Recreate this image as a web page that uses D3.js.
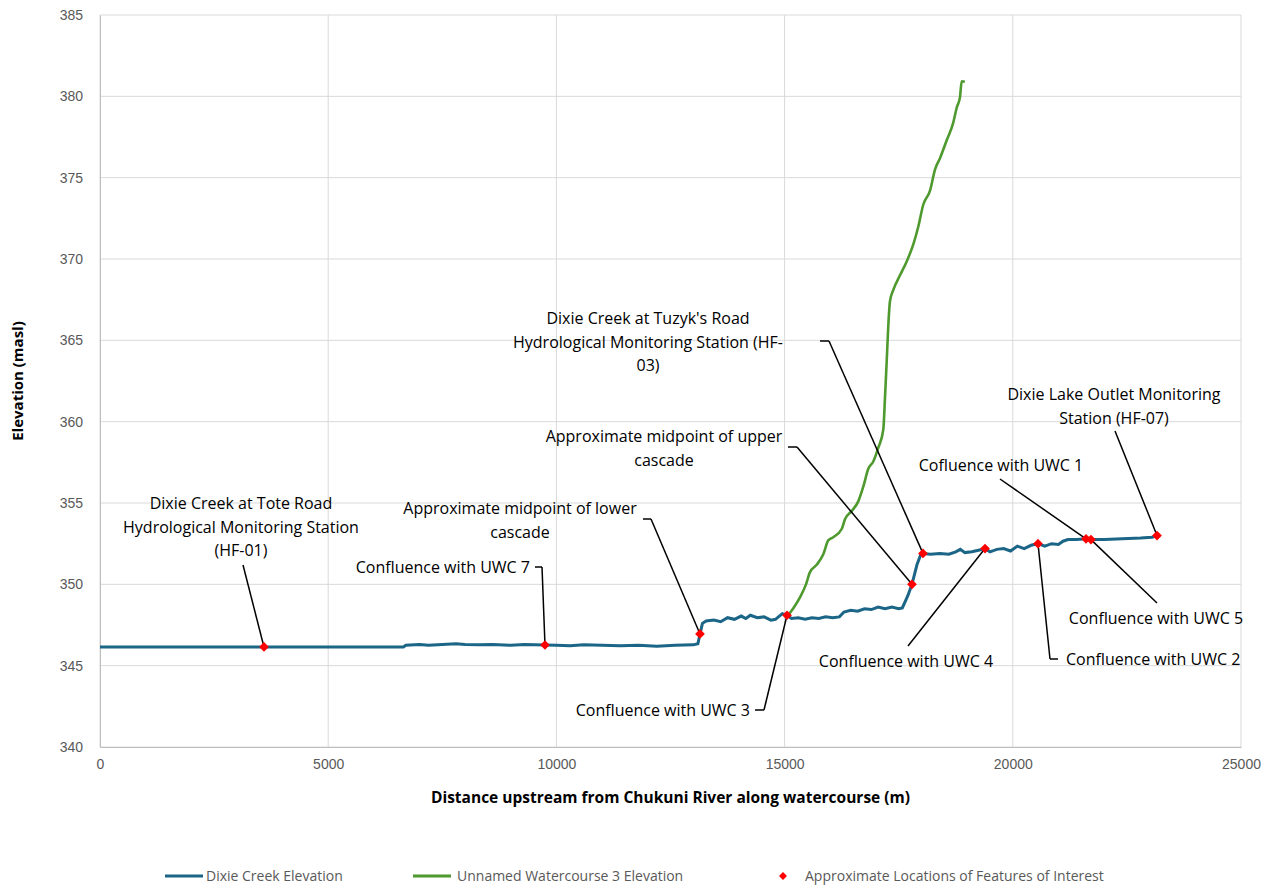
<!DOCTYPE html>
<html lang="en">
<head>
  <meta charset="UTF-8">
  <title>Dixie Creek profile</title>
  <script src="https://cdn.jsdelivr.net/npm/d3@7"></script>
  <style>
    body { margin: 0; background: #fff; }
    svg { display: block; font-family: "Open Sans", "Noto Sans", sans-serif; }
    .tick text { fill: #595959; font-size: 14px; }
    .note { font-size: 16px; fill: #000; }
  </style>
</head>
<body>
  <div id="chart"></div>
  <script>
    // Dixie Creek profile (distance m, elevation masl)
    const dixieX = [0, 6650, 6700, 7000, 7200, 7500, 7800, 8000, 8300, 8600, 9000, 9300, 9750, 10000, 10300, 10600, 11000, 11400, 11800, 12200, 12600, 13000, 13100, 13146, 13200, 13280, 13450, 13600, 13750, 13900, 14050, 14150, 14250, 14400, 14550, 14700, 14800, 14950, 15053, 15150, 15300, 15450, 15600, 15750, 15900, 16050, 16200, 16300, 16450, 16600, 16750, 16900, 17050, 17200, 17350, 17500, 17580, 17700, 17791, 17900, 17980, 18032, 18200, 18400, 18600, 18750, 18850, 18950, 19100, 19250, 19391, 19500, 19650, 19800, 19950, 20100, 20250, 20400, 20552, 20700, 20850, 21000, 21100, 21209, 21400, 21604, 21713, 22000, 22400, 22800, 23050, 23160]
    const dixieY = [346.15, 346.15, 346.25, 346.3, 346.25, 346.3, 346.35, 346.3, 346.28, 346.3, 346.25, 346.3, 346.27, 346.25, 346.22, 346.28, 346.25, 346.22, 346.25, 346.2, 346.25, 346.28, 346.35, 346.95, 347.6, 347.75, 347.8, 347.7, 347.95, 347.85, 348.05, 347.9, 348.1, 347.95, 348.0, 347.8, 347.85, 348.2, 348.1, 347.9, 347.95, 347.85, 347.95, 347.9, 348.0, 347.95, 348.0, 348.3, 348.4, 348.35, 348.5, 348.45, 348.6, 348.5, 348.6, 348.5, 348.55, 349.3, 350.0, 351.2, 351.8, 351.9, 351.85, 351.9, 351.85, 352.0, 352.15, 351.95, 352.0, 352.1, 352.2, 352.0, 352.15, 352.2, 352.05, 352.35, 352.2, 352.4, 352.5, 352.35, 352.5, 352.45, 352.65, 352.75, 352.75, 352.8, 352.75, 352.75, 352.8, 352.85, 352.9, 353.0]

    // Unnamed Watercourse 3 profile
    const uwcX = [15046, 15184, 15337, 15469, 15556, 15703, 15848, 15957, 16067, 16251, 16323, 16470, 16614, 16724, 16834, 16943, 17053, 17162, 17200, 17237, 17272, 17309, 17382, 17528, 17675, 17820, 17930, 18039, 18186, 18295, 18405, 18552, 18697, 18771, 18843, 18880, 18950]
    const uwcY = [348.0, 348.5, 349.2, 350.0, 350.75, 351.2, 351.85, 352.7, 352.9, 353.4, 354.0, 354.5, 355.1, 356.0, 357.1, 357.55, 358.4, 359.5, 361.5, 363.7, 365.9, 367.4, 368.1, 369.0, 369.85, 370.9, 372.0, 373.35, 374.2, 375.5, 376.2, 377.3, 378.4, 379.3, 379.95, 380.93, 380.9]

    // features of interest
    const featX = [3593, 9750, 13146, 15053, 17791, 18032, 19391, 20552, 21604, 21713, 23160]
    const featY = [346.15, 346.27, 346.95, 348.1, 350.0, 351.9, 352.2, 352.5, 352.8, 352.75, 353.0]
    const featLabels = [
      ['Dixie Creek at Tote Road', 'Hydrological Monitoring Station', '(HF-01)'],
      ['Confluence with UWC 7'],
      ['Approximate midpoint of lower', 'cascade'],
      ['Confluence with UWC 3'],
      ['Approximate midpoint of upper', 'cascade'],
      ["Dixie Creek at Tuzyk's Road", 'Hydrological Monitoring Station (HF-', '03)'],
      ['Confluence with UWC 4'],
      ['Confluence with UWC 2'],
      ['Cofluence with UWC 1'],
      ['Confluence with UWC 5'],
      ['Dixie Lake Outlet Monitoring', 'Station (HF-07)']
    ]

    const xTicks = [0, 5000, 10000, 15000, 20000, 25000]
    const yTicks = [340, 345, 350, 355, 360, 365, 370, 375, 380, 385]

    // label layout (pixels): text anchor x, first baseline y, anchor, leader start
    const labelLayout = [
      { tx: 241, ty: 509, anchor: 'middle', lx: 243, ly: 565, stub: 0 },
      { tx: 530, ty: 573, anchor: 'end', lx: 542, ly: 567, stub: -7 },
      { tx: 520, ty: 514, anchor: 'middle', lx: 651, ly: 519, stub: -8 },
      { tx: 750, ty: 716, anchor: 'end', lx: 764, ly: 710, stub: -9 },
      { tx: 664, ty: 442, anchor: 'middle', lx: 797, ly: 447, stub: -9 },
      { tx: 648, ty: 324, anchor: 'middle', lx: 829, ly: 341, stub: -9 },
      { tx: 906, ty: 667, anchor: 'middle', lx: 908, ly: 646, stub: 0 },
      { tx: 1066, ty: 665, anchor: 'start', lx: 1050, ly: 659, stub: 8 },
      { tx: 1001, ty: 471, anchor: 'middle', lx: 1000, ly: 479, stub: 0 },
      { tx: 1156, ty: 624, anchor: 'middle', lx: 1157, ly: 603, stub: 0 },
      { tx: 1114, ty: 400, anchor: 'middle', lx: 1115, ly: 431, stub: 0 }
    ]

    const width = 1266
    const height = 887
    const margin = { left: 100, right: 25, top: 15, bottom: 140 }

    const svg = d3.select('#chart').append('svg')
      .attr('width', width)
      .attr('height', height)

    const x = d3.scaleLinear().domain([0, 25000]).range([margin.left, width - margin.right])
    const y = d3.scaleLinear().domain([340, 385]).range([height - margin.bottom, margin.top])

    // grid
    svg.append('g')
      .selectAll('line.h')
      .data(yTicks)
      .join('line')
      .attr('x1', x(0)).attr('x2', x(25000))
      .attr('y1', d => y(d)).attr('y2', d => y(d))
      .attr('stroke', '#d9d9d9')
    svg.append('g')
      .selectAll('line.v')
      .data(xTicks)
      .join('line')
      .attr('x1', d => x(d)).attr('x2', d => x(d))
      .attr('y1', y(340)).attr('y2', y(385))
      .attr('stroke', '#d9d9d9')

    const xAxis = svg.append('g')
      .attr('transform', `translate(0, ${y(340)})`)
      .call(d3.axisBottom(x).tickValues(xTicks).tickFormat(d3.format('d')).tickSize(0).tickPadding(12))
    xAxis.select('.domain').attr('stroke', '#bfbfbf')

    const yAxis = svg.append('g')
      .attr('transform', `translate(${x(0)}, 0)`)
      .call(d3.axisLeft(y).tickValues(yTicks).tickSize(0).tickPadding(17))
    yAxis.select('.domain').attr('stroke', '#bfbfbf')

    svg.append('text')
      .attr('x', (x(0) + x(25000)) / 2)
      .attr('y', 803)
      .attr('text-anchor', 'middle')
      .style('font-size', '15.5px')
      .style('font-weight', 'bold')
      .text('Distance upstream from Chukuni River along watercourse (m)')

    svg.append('text')
      .attr('transform', `translate(23, ${(y(340) + y(385)) / 2}) rotate(-90)`)
      .attr('text-anchor', 'middle')
      .style('font-size', '15px')
      .style('font-weight', 'bold')
      .text('Elevation (masl)')

    const line = d3.line().x(d => x(d[0])).y(d => y(d[1]))

    svg.append('path')
      .datum(d3.zip(uwcX, uwcY))
      .attr('d', line.curve(d3.curveMonotoneX))
      .attr('fill', 'none')
      .attr('stroke', '#4e9a2e')
      .attr('stroke-width', 2.6)

    svg.append('path')
      .datum(d3.zip(dixieX, dixieY))
      .attr('d', line.curve(d3.curveLinear))
      .attr('fill', 'none')
      .attr('stroke', '#1b6587')
      .attr('stroke-width', 3)

    // leaders
    const feats = d3.zip(featX, featY)
    const notes = svg.append('g')
    feats.forEach((f, i) => {
      const l = labelLayout[i]
      if (l.stub) {
        notes.append('line')
          .attr('x1', l.lx + l.stub).attr('y1', l.ly)
          .attr('x2', l.lx).attr('y2', l.ly)
          .attr('stroke', '#000').attr('stroke-width', 1.5)
      }
      notes.append('line')
        .attr('x1', l.lx).attr('y1', l.ly)
        .attr('x2', x(f[0])).attr('y2', y(f[1]))
        .attr('stroke', '#000').attr('stroke-width', 1.5)

      const t = notes.append('text')
        .attr('class', 'note')
        .attr('text-anchor', l.anchor)
      featLabels[i].forEach((s, j) => {
        t.append('tspan').attr('x', l.tx).attr('y', l.ty + j * 23.5).text(s)
      })
    })

    const diamond = d3.symbol().type(d3.symbolDiamond2).size(60)
    svg.append('g')
      .selectAll('path')
      .data(feats)
      .join('path')
      .attr('d', diamond)
      .attr('transform', d => `translate(${x(d[0])}, ${y(d[1])})`)
      .attr('fill', '#ff0000')

    // legend
    const legend = svg.append('g').style('font-size', '14px').style('fill', '#595959')
    legend.append('line').attr('x1', 165).attr('x2', 203).attr('y1', 876).attr('y2', 876)
      .attr('stroke', '#1b6587').attr('stroke-width', 3)
    legend.append('text').attr('x', 206).attr('y', 881).text('Dixie Creek Elevation')
    legend.append('line').attr('x1', 413).attr('x2', 451).attr('y1', 876).attr('y2', 876)
      .attr('stroke', '#4e9a2e').attr('stroke-width', 3)
    legend.append('text').attr('x', 457).attr('y', 881).text('Unnamed Watercourse 3 Elevation')
    legend.append('path').attr('d', d3.symbol().type(d3.symbolDiamond2).size(40))
      .attr('transform', 'translate(783, 876)').attr('fill', '#ff0000')
    legend.append('text').attr('x', 805).attr('y', 881).text('Approximate Locations of Features of Interest')
  </script>
</body>
</html>
